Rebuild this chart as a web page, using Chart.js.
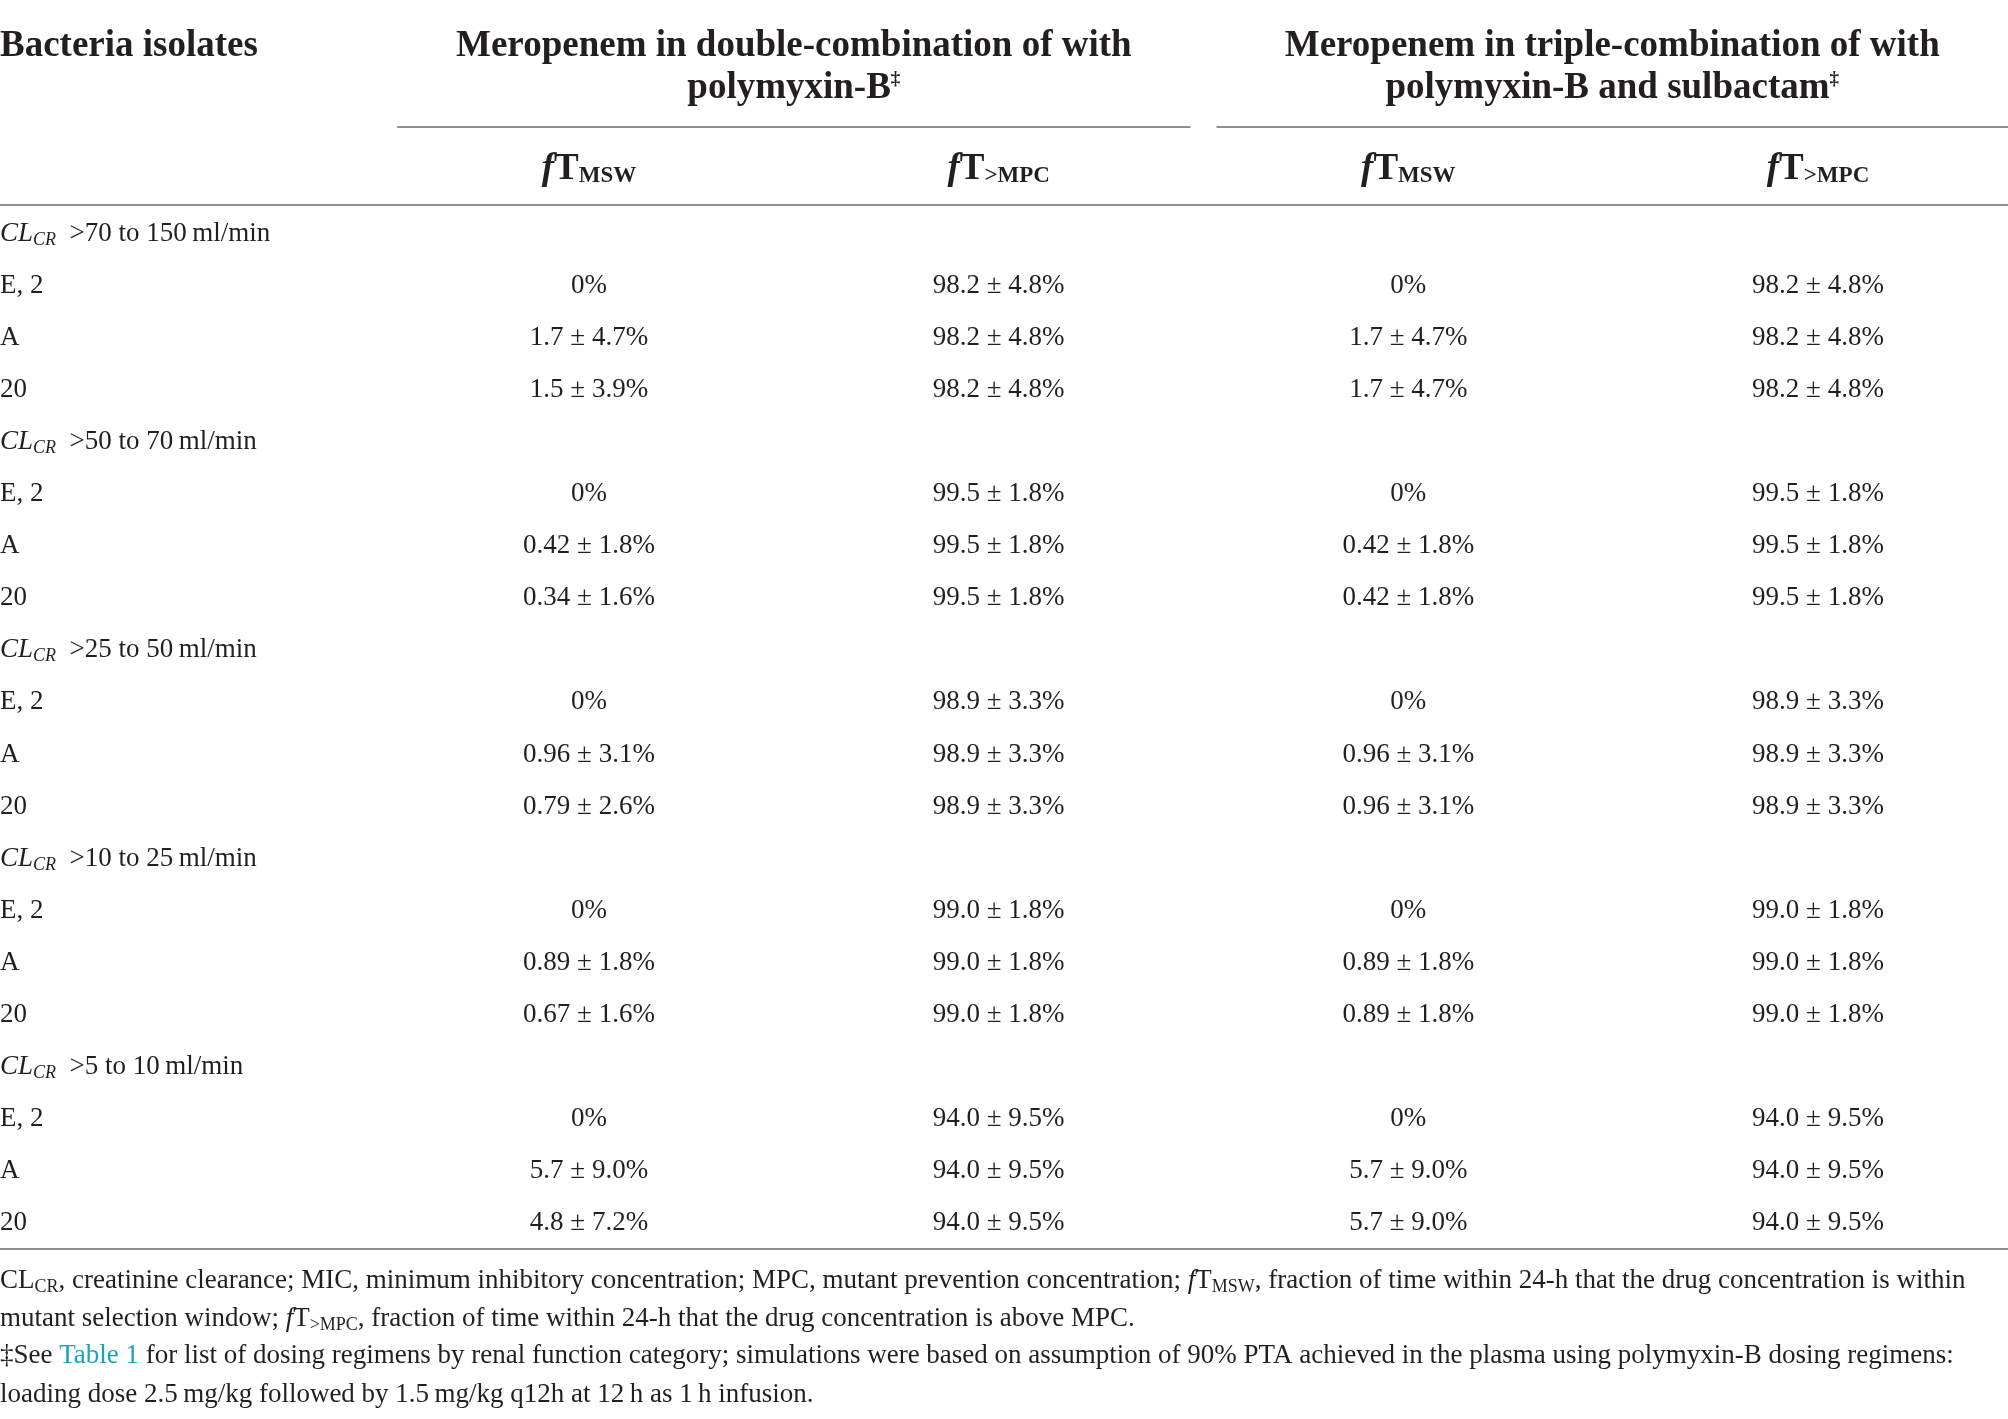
<!DOCTYPE html>
<html>
<head>
<meta charset="utf-8">
<script src="https://cdn.jsdelivr.net/npm/chart.js@4.4.1/dist/chart.umd.min.js"></script>
<style>
  body { margin: 0; background: #ffffff; }
  #wrap { width: 2008px; height: 1419px; }
</style>
</head>
<body>
<div id="wrap"><canvas id="myTable" width="2008" height="1419"></canvas></div>
<script>
// renal function groups and isolates (rows)
var groups = [">70 to 150\u2009ml/min", ">50 to 70\u2009ml/min", ">25 to 50\u2009ml/min", ">10 to 25\u2009ml/min", ">5 to 10\u2009ml/min"];
var isolates = ["E, 2", "A", "20"];

// columns: double combination (fT MSW, fT >MPC), triple combination (fT MSW, fT >MPC)
var doubleMSW = ["0%", "1.7 \u00b1 4.7%", "1.5 \u00b1 3.9%",
                 "0%", "0.42 \u00b1 1.8%", "0.34 \u00b1 1.6%",
                 "0%", "0.96 \u00b1 3.1%", "0.79 \u00b1 2.6%",
                 "0%", "0.89 \u00b1 1.8%", "0.67 \u00b1 1.6%",
                 "0%", "5.7 \u00b1 9.0%", "4.8 \u00b1 7.2%"];
var doubleMPC = ["98.2 \u00b1 4.8%", "98.2 \u00b1 4.8%", "98.2 \u00b1 4.8%",
                 "99.5 \u00b1 1.8%", "99.5 \u00b1 1.8%", "99.5 \u00b1 1.8%",
                 "98.9 \u00b1 3.3%", "98.9 \u00b1 3.3%", "98.9 \u00b1 3.3%",
                 "99.0 \u00b1 1.8%", "99.0 \u00b1 1.8%", "99.0 \u00b1 1.8%",
                 "94.0 \u00b1 9.5%", "94.0 \u00b1 9.5%", "94.0 \u00b1 9.5%"];
var tripleMSW = ["0%", "1.7 \u00b1 4.7%", "1.7 \u00b1 4.7%",
                 "0%", "0.42 \u00b1 1.8%", "0.42 \u00b1 1.8%",
                 "0%", "0.96 \u00b1 3.1%", "0.96 \u00b1 3.1%",
                 "0%", "0.89 \u00b1 1.8%", "0.89 \u00b1 1.8%",
                 "0%", "5.7 \u00b1 9.0%", "5.7 \u00b1 9.0%"];
var tripleMPC = ["98.2 \u00b1 4.8%", "98.2 \u00b1 4.8%", "98.2 \u00b1 4.8%",
                 "99.5 \u00b1 1.8%", "99.5 \u00b1 1.8%", "99.5 \u00b1 1.8%",
                 "98.9 \u00b1 3.3%", "98.9 \u00b1 3.3%", "98.9 \u00b1 3.3%",
                 "99.0 \u00b1 1.8%", "99.0 \u00b1 1.8%", "99.0 \u00b1 1.8%",
                 "94.0 \u00b1 9.5%", "94.0 \u00b1 9.5%", "94.0 \u00b1 9.5%"];

var columnKeys = ["dblMSW", "dblMPC", "triMSW", "triMPC"];
var columnSubs = ["MSW", ">MPC", "MSW", ">MPC"];
var groupTitles = [
  ["Meropenem in double-combination of with", "polymyxin-B"],
  ["Meropenem in triple-combination of with", "polymyxin-B and sulbactam"]
];

var FONT = "'Liberation Serif', 'DejaVu Serif', serif";
var INK = "#231f20";
var RULE = "#8f8f8f";
var LINK = "#1ba3b9";

// build the row list: a heading row per group, then one row per isolate
var rowLabels = [];
var rowKinds = [];
var rowSource = [];
for (var g = 0; g < groups.length; g++) {
  rowLabels.push("g" + g);
  rowKinds.push("group");
  rowSource.push(-1);
  for (var k = 0; k < isolates.length; k++) {
    rowLabels.push("r" + g + "_" + k);
    rowKinds.push("row");
    rowSource.push(g * isolates.length + k);
  }
}

function columnData(values, col) {
  var pts = [];
  for (var i = 0; i < rowLabels.length; i++) {
    pts.push({ x: columnKeys[col], y: rowLabels[i], text: rowSource[i] < 0 ? "" : values[rowSource[i]] });
  }
  return pts;
}

// draw a run of text pieces with different fonts
function richWidth(ctx, parts) {
  var w = 0;
  parts.forEach(function (p) {
    ctx.font = p.f;
    w += ctx.measureText(p.t).width;
  });
  return w;
}
function drawRich(ctx, parts, x, y, align) {
  var w = richWidth(ctx, parts);
  var cx = align === "center" ? x - w / 2 : x;
  ctx.textAlign = "left";
  ctx.textBaseline = "alphabetic";
  parts.forEach(function (p) {
    ctx.font = p.f;
    ctx.fillStyle = p.c || INK;
    ctx.fillText(p.t, cx, y + (p.dy || 0));
    cx += ctx.measureText(p.t).width;
  });
}
function rule(ctx, x0, x1, y) {
  ctx.strokeStyle = RULE;
  ctx.lineWidth = 2;
  ctx.beginPath();
  ctx.moveTo(x0, y);
  ctx.lineTo(x1, y);
  ctx.stroke();
}

var reg = "27px " + FONT;
var ital = "italic 27px " + FONT;
var sub = "18px " + FONT;
var subI = "italic 18px " + FONT;
var bold = "bold 37px " + FONT;
var boldI = "italic bold 37px " + FONT;
var boldSub = "bold 23px " + FONT;
var boldSup = "bold 19px " + FONT;

var tablePlugin = {
  id: "tablePlugin",
  afterDatasetsDraw: function (chart) {
    var ctx = chart.ctx;
    var area = chart.chartArea;
    var xs = chart.scales.x;
    var ys = chart.scales.y;
    var W = chart.width;
    ctx.save();

    // header block
    drawRich(ctx, [{ t: "Bacteria isolates", f: bold }], 0, area.top - 185, "left");
    var band = xs.getPixelForValue(1) - xs.getPixelForValue(0);
    for (var gi = 0; gi < 2; gi++) {
      var xa = xs.getPixelForValue(gi * 2);
      var xb = xs.getPixelForValue(gi * 2 + 1);
      var left = xa - band / 2 + 13;
      var right = Math.min(xb + band / 2 - 13, W);
      var midLine = (left + right) / 2;
      drawRich(ctx, [{ t: groupTitles[gi][0], f: bold }], midLine, area.top - 185, "center");
      drawRich(ctx, [{ t: groupTitles[gi][1], f: bold }, { t: "\u2021", f: boldSup, dy: -14 }], midLine, area.top - 143, "center");
      rule(ctx, left, right, area.top - 114);
    }
    for (var c = 0; c < columnKeys.length; c++) {
      drawRich(ctx, [{ t: "f", f: boldI }, { t: "T", f: bold }, { t: columnSubs[c], f: boldSub, dy: 3 }],
        xs.getPixelForValue(c), area.top - 62, "center");
    }
    rule(ctx, 0, W, area.top - 36);

    // first column: group headings and isolates
    for (var r = 0; r < rowLabels.length; r++) {
      var y = ys.getPixelForValue(r);
      if (rowKinds[r] === "group") {
        var gIdx = Math.floor(r / (isolates.length + 1));
        drawRich(ctx, [{ t: "CL", f: ital }, { t: "CR", f: subI, dy: 4 }, { t: "\u2002" + groups[gIdx], f: reg }], 0, y, "left");
      } else {
        drawRich(ctx, [{ t: isolates[(r % (isolates.length + 1)) - 1], f: reg }], 0, y, "left");
      }
    }

    // cell values, placed at each point of the datasets
    chart.data.datasets.forEach(function (ds, di) {
      var meta = chart.getDatasetMeta(di);
      meta.data.forEach(function (pt, i) {
        var txt = ds.data[i].text;
        if (txt) drawRich(ctx, [{ t: txt, f: reg }], pt.x, pt.y, "center");
      });
    });

    rule(ctx, 0, W, area.bottom + 19);

    // footnotes
    var fy = area.bottom + 58;
    drawRich(ctx, [
      { t: "CL", f: reg }, { t: "CR", f: sub, dy: 4 },
      { t: ", creatinine clearance; MIC, minimum inhibitory concentration; MPC, mutant prevention concentration; ", f: reg },
      { t: "f", f: ital }, { t: "T", f: reg }, { t: "MSW", f: sub, dy: 4 },
      { t: ", fraction of time within 24-h that the drug concentration is within", f: reg }
    ], 0, fy, "left");
    drawRich(ctx, [
      { t: "mutant selection window; ", f: reg },
      { t: "f", f: ital }, { t: "T", f: reg }, { t: ">MPC", f: sub, dy: 4 },
      { t: ", fraction of time within 24-h that the drug concentration is above MPC.", f: reg }
    ], 0, fy + 38, "left");
    drawRich(ctx, [
      { t: "\u2021See ", f: reg }, { t: "Table 1", f: reg, c: LINK },
      { t: " for list of dosing regimens by renal function category; simulations were based on assumption of 90% PTA achieved in the plasma using polymyxin-B dosing regimens:", f: reg }
    ], 0, fy + 75, "left");
    drawRich(ctx, [
      { t: "loading dose 2.5\u2009mg/kg followed by 1.5\u2009mg/kg q12h at 12\u2009h as 1\u2009h infusion.", f: reg }
    ], 0, fy + 114, "left");

    ctx.restore();
  }
};

var datasets = [doubleMSW, doubleMPC, tripleMSW, tripleMPC].map(function (vals, i) {
  return {
    label: columnKeys[i],
    data: columnData(vals, i),
    pointRadius: 0,
    pointHoverRadius: 0,
    showLine: false
  };
});

var table = new Chart(document.getElementById("myTable").getContext("2d"), {
  type: "scatter",
  data: { datasets: datasets },
  options: {
    responsive: false,
    animation: false,
    devicePixelRatio: 1,
    events: [],
    layout: { padding: { left: 589, right: 190, top: 241, bottom: 189 } },
    plugins: { legend: { display: false }, tooltip: { enabled: false } },
    scales: {
      x: { type: "category", labels: columnKeys, offset: false, display: false },
      y: { type: "category", labels: rowLabels, offset: false, display: false }
    }
  },
  plugins: [tablePlugin]
});
</script>
</body>
</html>
